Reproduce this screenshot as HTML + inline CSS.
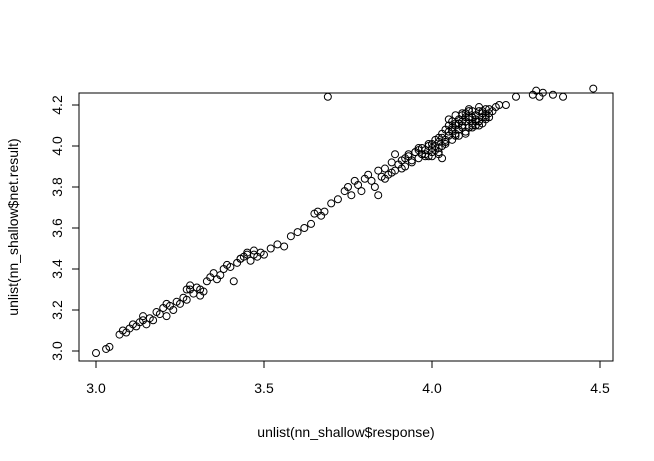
<!DOCTYPE html>
<html><head><meta charset="utf-8"><style>
body{margin:0;background:#fff}
svg{display:block;font-family:"Liberation Sans",Arial,sans-serif}
</style></head><body>
<svg id="chart" width="654" height="461">
<rect x="79" y="93" width="534" height="268" fill="none" stroke="#000"/>
<g id="axes"></g><g id="pts"></g>
<text x="346" y="437" text-anchor="middle" font-size="14">unlist(nn_shallow$response)</text>
<text transform="translate(18,227) rotate(-90)" text-anchor="middle" font-size="14">unlist(nn_shallow$net.result)</text>
</svg>
<script>
const xTicks=[3.0,3.5,4.0,4.5];
const yTicks=[3.0,3.2,3.4,3.6,3.8,4.0,4.2];
const xVals=[3.00,3.03,3.04,3.07,3.08,3.09,3.10,3.11,3.12,3.13,3.14,3.15,3.16,3.17,3.18,3.19,3.20,3.21,3.22,3.23,3.24,3.25,3.26,3.27,3.27,3.28,3.29,3.30,3.31,3.32,3.33,3.34,3.35,3.36,3.37,3.38,3.39,3.40,3.41,3.42,3.43,3.44,3.45,3.46,3.47,3.48,3.49,3.50,3.52,3.54,3.56,3.58,3.60,3.62,3.64,3.65,3.66,3.67,3.68,3.69,3.70,3.72,3.74,3.75,3.76,3.77,3.78,3.79,3.80,3.81,3.82,3.83,3.84,3.84,3.85,3.86,3.87,3.88,3.89,3.90,3.91,3.92,3.93,3.94,3.95,3.96,3.97,3.98,3.99,4.00,4.00,4.01,4.01,4.02,4.02,4.03,4.03,4.04,4.04,4.05,4.05,4.06,4.06,4.07,4.07,4.08,4.08,4.09,4.09,4.10,4.10,4.11,4.11,4.12,4.12,4.13,4.13,4.14,4.14,4.15,4.15,4.16,4.16,4.17,4.18,4.19,4.20,4.22,4.25,4.30,4.31,4.32,4.33,4.36,4.39,4.48,3.96,3.97,3.99,4.02,4.04,4.06,4.08,4.10,4.12,4.14,3.45,3.43,3.47,3.14,3.21,3.31,3.28,4.05,4.07,4.09,4.11,4.13,4.15,4.17,4.03,
3.92,3.93,3.94,3.95,3.96,3.97,3.98,3.99,4.00,4.01,4.02,4.03,4.04,4.05,4.06,4.07,4.08,4.09,4.10,4.11,4.12,4.13,4.14,4.15,4.16,4.17,3.98,4.00,4.02,4.04,4.06,4.08,4.10,4.12,4.14,4.16,3.89,3.91,3.86,3.88,4.11,4.13,4.09,4.07,4.15,4.12];
const yVals=[2.99,3.01,3.02,3.08,3.10,3.09,3.11,3.13,3.12,3.14,3.15,3.13,3.16,3.15,3.19,3.18,3.21,3.17,3.22,3.20,3.24,3.23,3.26,3.25,3.30,3.32,3.28,3.31,3.27,3.29,3.34,3.36,3.38,3.35,3.37,3.40,3.42,3.41,3.34,3.43,3.45,3.46,3.48,3.44,3.47,3.46,3.48,3.47,3.50,3.52,3.51,3.56,3.58,3.60,3.62,3.67,3.68,3.66,3.68,4.24,3.72,3.74,3.78,3.80,3.76,3.83,3.81,3.78,3.84,3.86,3.83,3.80,3.76,3.88,3.85,3.89,3.86,3.92,3.88,3.91,3.93,3.90,3.95,3.92,3.97,3.94,3.99,3.96,4.00,3.97,4.01,3.98,4.03,3.96,4.04,4.00,4.06,4.02,4.08,4.05,4.10,4.07,4.12,4.05,4.10,4.13,4.08,4.15,4.10,4.12,4.16,4.09,4.14,4.17,4.11,4.15,4.13,4.17,4.12,4.16,4.14,4.18,4.15,4.18,4.17,4.19,4.20,4.20,4.24,4.25,4.27,4.24,4.26,4.25,4.24,4.28,3.98,3.96,3.95,3.99,4.01,4.03,4.11,4.06,4.14,4.19,3.47,3.45,3.49,3.17,3.23,3.30,3.30,4.13,4.15,4.16,4.18,4.12,4.11,4.14,3.94,
3.94,3.96,3.93,3.97,3.99,3.96,3.98,4.01,3.99,4.00,4.02,4.04,4.02,4.07,4.08,4.06,4.11,4.09,4.14,4.13,4.10,4.15,4.12,4.16,4.13,4.16,3.95,3.95,3.97,4.03,4.09,4.05,4.07,4.09,4.10,4.14,3.96,3.89,3.84,3.87,4.17,4.10,4.12,4.11,4.17,4.14];
const sx=v=>96+(v-3)*336, sy=v=>351-(v-3)*205;
const NS='http://www.w3.org/2000/svg';
const ax=document.getElementById('axes'), pg=document.getElementById('pts');
function mk(t,a,p){const e=document.createElementNS(NS,t);for(const k in a)e.setAttribute(k,a[k]);p.appendChild(e);return e;}
mk('line',{x1:sx(3),x2:sx(4.5),y1:361,y2:361,stroke:'#000'},ax);
xTicks.forEach(t=>{mk('line',{x1:sx(t),x2:sx(t),y1:361,y2:368,stroke:'#000'},ax);
const e=mk('text',{x:sx(t),y:393,'text-anchor':'middle','font-size':14},ax);e.textContent=t.toFixed(1);

});
mk('line',{x1:79,x2:79,y1:sy(3),y2:sy(4.2),stroke:'#000'},ax);
yTicks.forEach(t=>{mk('line',{x1:72,x2:79,y1:sy(t),y2:sy(t),stroke:'#000'},ax);
const e=mk('text',{transform:`translate(62,${sy(t)}) rotate(-90)`,'text-anchor':'middle','font-size':14},ax);e.textContent=t.toFixed(1);

});
xVals.forEach((x,i)=>{const c=mk('circle',{cx:sx(x),cy:sy(yVals[i]),r:3.5,fill:'none',stroke:'#000','stroke-width':1},pg);

});
</script>
</body></html>
